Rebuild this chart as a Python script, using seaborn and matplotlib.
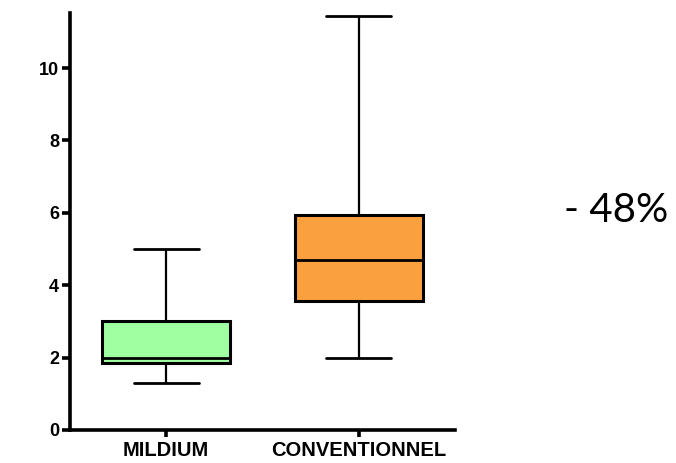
import matplotlib
matplotlib.use("Agg")
import matplotlib.pyplot as plt
import numpy as np
import pandas as pd
import seaborn as sns

# Five-number summaries (min, Q1, median, Q3, max) per treatment
categories = ["MILDIUM", "CONVENTIONNEL"]
mildium = [1.3, 1.85, 2.0, 3.0, 5.0]
conventionnel = [2.0, 3.55, 4.7, 5.95, 11.45]
colors = ["#A0FFA0", "#FBA03F"]
y_ticks = [0, 2, 4, 6, 8, 10]
annotation = "- 48%"

df = pd.DataFrame({
    "groupe": [categories[0]] * len(mildium) + [categories[1]] * len(conventionnel),
    "valeur": mildium + conventionnel,
})

sns.set_theme(style="ticks")
plt.rcParams["font.family"] = ["Liberation Sans", "DejaVu Sans"]

fig = plt.figure(figsize=(6.76, 4.63), dpi=100)
ax = fig.add_axes([70 / 676, 1 - 430 / 463, 385 / 676, 417 / 463])

sns.boxplot(
    data=df, x="groupe", y="valeur", hue="groupe", order=categories,
    hue_order=categories, palette=colors, legend=False, whis=np.inf,
    width=0.667, linecolor="black", linewidth=2.0, ax=ax,
    boxprops=dict(linewidth=2.2),
    medianprops=dict(linewidth=2.0, color="black"),
    whiskerprops=dict(linewidth=1.6),
    capprops=dict(linewidth=2.0),
    saturation=1,
)
# cap width: half of the box width
for line in ax.lines:
    xd = np.asarray(line.get_xdata(), dtype=float)
    yd = np.asarray(line.get_ydata(), dtype=float)
    if len(xd) == 2 and np.isclose(yd[0], yd[1]) and not np.isclose(xd[0], xd[1]):
        c = xd.mean()
        half = xd[1] - xd[0]
        if abs(abs(half) - 0.667) > 0.05:
            line.set_xdata([c - 0.17, c + 0.17])

ax.set_xlim(-0.5, 1.5)
ax.set_ylim(0, 11.52)
ax.set_yticks(y_ticks)
ax.set_yticklabels([str(t) for t in y_ticks], fontsize=13, fontweight="bold")
ax.set_xticks([0, 1])
ax.set_xticklabels(categories, fontsize=14.5, fontweight="bold")
ax.set_xlabel("")
ax.set_ylabel("")

for side in ["top", "right"]:
    ax.spines[side].set_visible(False)
for side in ["left", "bottom"]:
    ax.spines[side].set_linewidth(2.6)
    ax.spines[side].set_color("black")
ax.tick_params(axis="y", length=6, width=2.6, color="black", pad=2, labelcolor="black")
ax.tick_params(axis="x", length=5, width=2.6, color="black", pad=3, labelcolor="black")

fig.text(616 / 676, 1 - 211 / 463, annotation, fontsize=29, family=["Lato", "DejaVu Sans"],
         ha="center", va="center", color="black")

fig.savefig("out.png", dpi=100)
